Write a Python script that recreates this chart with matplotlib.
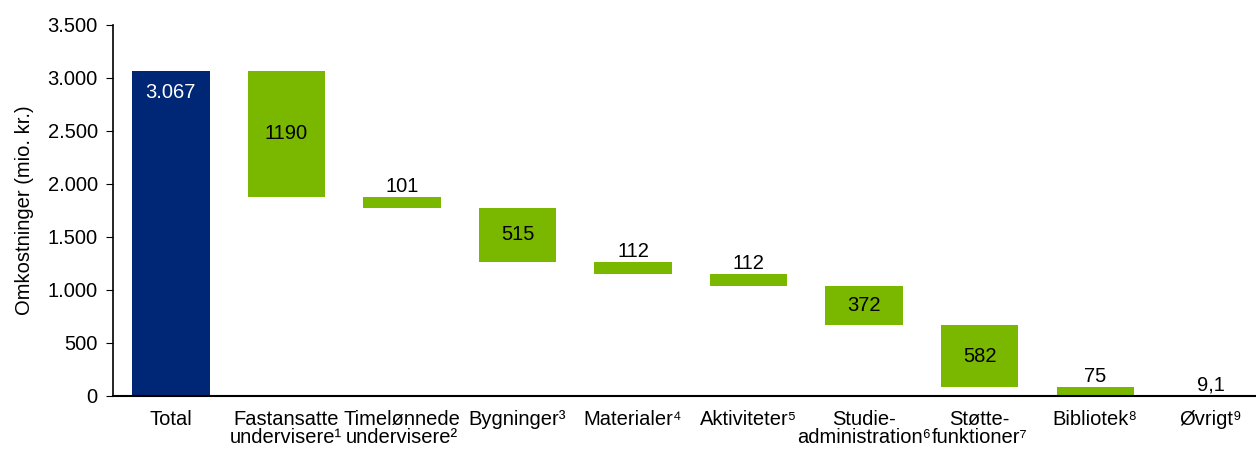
import numpy as np
import matplotlib.pyplot as plt
from matplotlib.ticker import FuncFormatter

plt.rcParams['font.family'] = ['Liberation Sans', 'DejaVu Sans']

categories = ['Total', 'Fastansatte\nundervisere¹', 'Timelønnede\nundervisere²', 'Bygninger³',
              'Materialer⁴', 'Aktiviteter⁵', 'Studie-\nadministration⁶', 'Støtte-\nfunktioner⁷',
              'Bibliotek⁸', 'Øvrigt⁹']
total = 3067
steps = [1190, 101, 515, 112, 112, 372, 582, 75, 9.1]
step_labels = ['1190', '101', '515', '112', '112', '372', '582', '75', '9,1']
inside = [True, False, True, False, False, True, True, False, False]

navy = '#002776'
green = '#7ab800'
fs = 14.5

# waterfall bottoms
tops = total - np.concatenate([[0], np.cumsum(steps[:-1])])
bottoms = np.maximum(tops - np.array(steps), 0)
heights = tops - bottoms

fig = plt.figure(figsize=(12.56, 4.51), dpi=100)
ax = fig.add_axes([0.09, 0.122, 0.92, 0.823])

x = np.arange(len(categories))
w = 0.67
ax.bar(x[0], total, width=w, color=navy)
ax.bar(x[1:], heights, bottom=bottoms, width=w, color=green)

ax.text(x[0], total - 210, '3.067', color='white', ha='center', va='center', fontsize=fs)
for i, (s, lab, ins) in enumerate(zip(steps, step_labels, inside)):
    xi = x[i + 1]
    if ins:
        ax.text(xi, bottoms[i] + heights[i] / 2, lab, ha='center', va='center', fontsize=fs)
    else:
        ax.text(xi, tops[i] + 10, lab, ha='center', va='bottom', fontsize=fs)

ax.set_xlim(-0.5, 9.5)
ax.set_ylim(0, 3500)
ax.set_yticks(np.arange(0, 3501, 500))
ax.yaxis.set_major_formatter(FuncFormatter(lambda v, p: f'{int(v):,}'.replace(',', '.')))
ax.set_xticks(x)
ax.set_xticklabels(categories, fontsize=fs, va='top', linespacing=0.95)
ax.tick_params(axis='x', length=0, pad=10)
ax.tick_params(axis='y', labelsize=fs, length=5, direction='out', pad=6)
ax.set_ylabel('Omkostninger (mio. kr.)', fontsize=fs, labelpad=10)
for sp in ['top', 'right']:
    ax.spines[sp].set_visible(False)
ax.spines['left'].set_linewidth(1.2)
ax.spines['bottom'].set_linewidth(1.5)

fig.savefig('out.png', dpi=100)
